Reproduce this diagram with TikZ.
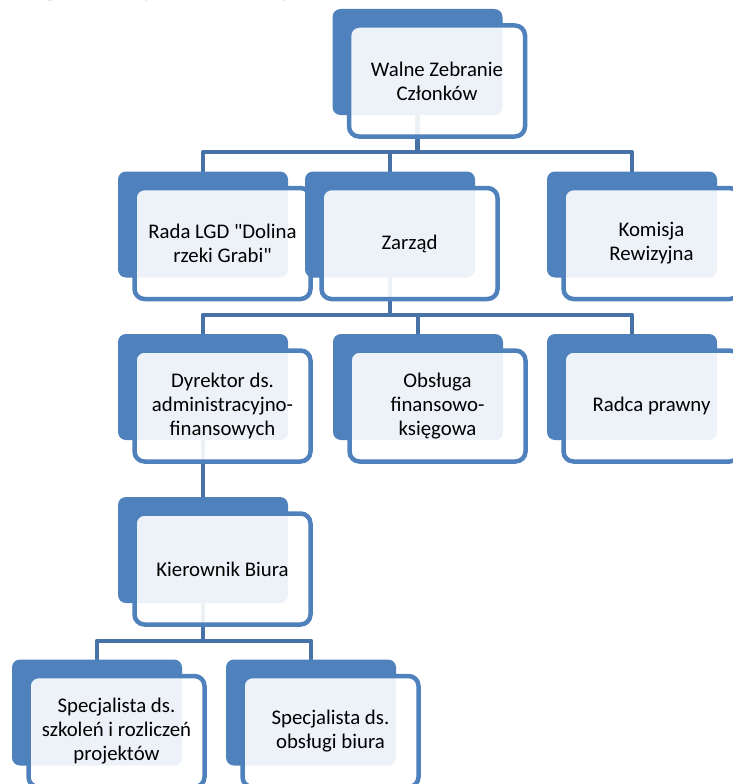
\documentclass[tikz,border=0pt]{standalone}
\usepackage{fontspec}
\setmainfont{Carlito}
\newfontfamily\boxfont{Carlito}
\usetikzlibrary{calc}
\pgfdeclarelayer{bg}
\pgfsetlayers{bg,main}
\definecolor{acc}{RGB}{79,129,189}
\definecolor{conncol}{RGB}{70,114,168}
\newcommand\orgbox[4]{%
  \node[backbox] (#1B) at (#2,#3) {};
  \node[frontbox] (#1) at ($(#1B.center)+(19.5,19)$) {#4};
}
\begin{document}
\begin{tikzpicture}[x=1pt,y=-1pt,
  backbox/.style={fill=acc, rounded corners=8pt, minimum width=170pt, minimum height=106pt, inner sep=0pt, outer sep=0pt},
  frontbox/.style={draw=acc, line width=4.5pt, fill=white, fill opacity=0.9, text opacity=1, draw opacity=1,
    rounded corners=10pt, minimum width=176pt, minimum height=111pt, inner sep=0pt, outer sep=0pt,
    align=center, text=black, font=\boxfont\fontsize{20.8}{24}\selectfont},
  connector/.style={draw=conncol, line width=4.5pt, line join=round}]
\useasboundingbox (0,0) rectangle (732,784);
\node[anchor=base west, inner sep=0pt, font=\boxfont\fontsize{30}{36}\selectfont] (title) at (17,-4.5)
  {organizacyjna Lokalnej Grupy Działania „Dolina rzeki Grabi”};
\orgbox{walne}{417.5}{62}{Walne Zebranie\\Członków}
\orgbox{rada}{203}{224.5}{Rada LGD "Dolina\\rzeki Grabi"}
\orgbox{zarzad}{390}{224.5}{Zarząd}
\orgbox{komisja}{632}{224.5}{Komisja\\Rewizyjna}
\orgbox{dyr}{203}{387}{Dyrektor ds.\\administracyjno-\\finansowych}
\orgbox{obs}{418}{387}{Obsługa\\finansowo-\\księgowa}
\orgbox{radca}{632}{387}{Radca prawny}
\orgbox{kier}{203}{550}{Kierownik Biura}
\orgbox{specA}{97}{712.5}{Specjalista ds.\\szkoleń i rozliczeń\\projektów}
\orgbox{specB}{311}{712.5}{Specjalista ds.\\obsługi biura}
\begin{pgfonlayer}{bg}
\draw[connector] (walneB.south) -- ++(0,37) -| (radaB.north);
\draw[connector] (walneB.south) -- ++(0,37) -| (zarzadB.north);
\draw[connector] (walneB.south) -- ++(0,37) -| (komisjaB.north);
\draw[connector] (zarzadB.south) -- ++(0,37.5) -| (dyrB.north);
\draw[connector] (zarzadB.south) -- ++(0,37.5) -| (obsB.north);
\draw[connector] (zarzadB.south) -- ++(0,37.5) -| (radcaB.north);
\draw[connector] (dyrB.south) -- (kierB.north);
\draw[connector] (kierB.south) -- ++(0,38) -| (specAB.north);
\draw[connector] (kierB.south) -- ++(0,38) -| (specBB.north);
\end{pgfonlayer}
\end{tikzpicture}
\end{document}
